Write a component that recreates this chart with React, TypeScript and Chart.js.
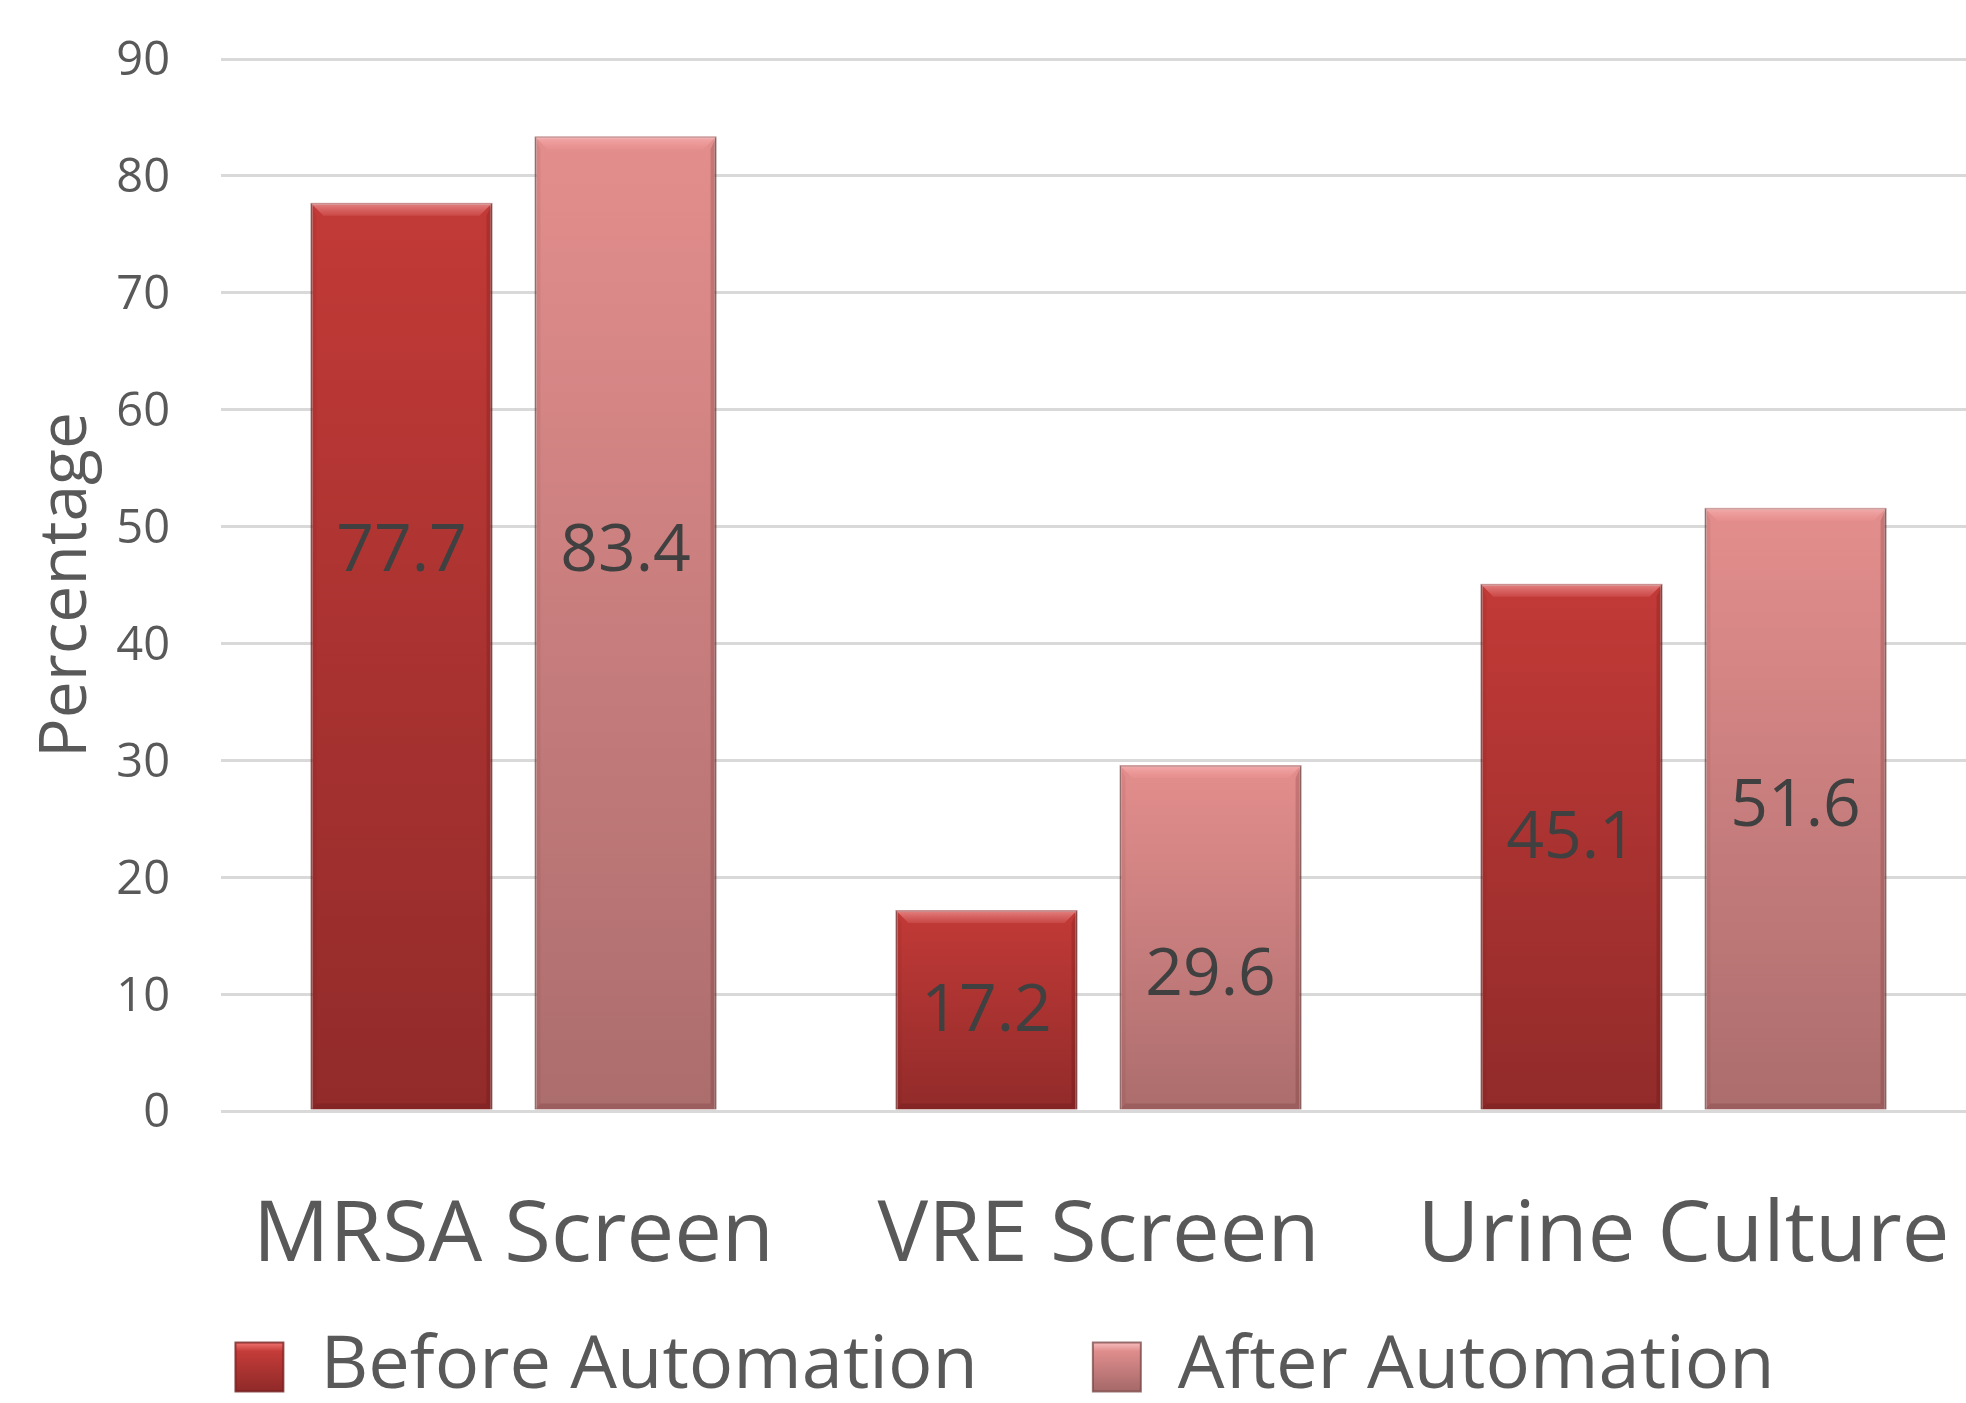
import React, { useEffect, useRef } from "react";
import { Chart, registerables } from "chart.js";

Chart.register(...registerables);

// ---- data ----
const categories = ["MRSA Screen", "VRE Screen", "Urine Culture"];
const seriesNames = ["Before Automation", "After Automation"];
const beforeAutomation = [77.7, 17.2, 45.1];
const afterAutomation = [83.4, 29.6, 51.6];
// height (in data units) at which each value label is centred in the original
const beforeLabelAt = [48.2, 8.9, 23.7];
const afterLabelAt = [48.2, 11.9, 26.4];
const yMin = 0;
const yMax = 90;
const yStep = 10;
const yTitle = "Percentage";

// ---- styles ----
const FONT = '"Open Sans", "Noto Sans", sans-serif';
const TEXT = "#595959";
const LABEL = "#404040";
const GRID = "#D9D9D9";
const beforeTop = "#C23A37";
const beforeBottom = "#912B2A";
const afterTop = "#E38E8D";
const afterBottom = "#AC6D6D";
const LEGEND_FONT = 74;
const LEGEND_BOX_W = 48;
const LEGEND_BOX_H = 49;
const LEGEND_PAD = 115;
const VALUE_FONT = 66;
// the plot runs slightly past the right edge of the picture, as in the original
const CANVAS_W = 1976;
const CANVAS_H = 1403;

function barGradient(top: string, bottom: string, mid: string) {
  return (ctx: any) => {
    const chart = ctx.chart;
    const ys = chart.scales && chart.scales.y;
    if (ctx.type !== "data" || !ys || !chart.chartArea) return mid;
    const v = ctx.raw as number;
    const y0 = ys.getPixelForValue(v);
    const y1 = ys.getPixelForValue(0);
    if (!isFinite(y0) || !isFinite(y1) || y0 === y1) return mid;
    const g = chart.ctx.createLinearGradient(0, y0, 0, y1);
    g.addColorStop(0, top);
    g.addColorStop(1, bottom);
    return g;
  };
}

const legendStops = [
  [
    [0, "#F07470"],
    [0.18, "#C43C39"],
    [1, "#8E2928"],
  ],
  [
    [0, "#F8BDBC"],
    [0.18, "#DE8D8C"],
    [1, "#A56868"],
  ],
];

const barDecor = {
  id: "barDecor",
  afterUpdate(chart: any) {
    const lg = chart.legend;
    if (!lg || !lg.legendItems) return;
    const y0 = lg.top + LEGEND_PAD + Math.max((LEGEND_FONT - LEGEND_BOX_H) / 2, 0);
    lg.legendItems.forEach((item: any, i: number) => {
      const g = chart.ctx.createLinearGradient(0, y0, 0, y0 + LEGEND_BOX_H);
      (legendStops[i] || legendStops[0]).forEach((s: any) => g.addColorStop(s[0], s[1]));
      item.fillStyle = g;
    });
  },
  afterDatasetsDraw(chart: any) {
    const { ctx } = chart;
    const ys = chart.scales.y;
    chart.data.datasets.forEach((ds: any, di: number) => {
      const meta = chart.getDatasetMeta(di);
      const anchors = di === 0 ? beforeLabelAt : afterLabelAt;
      meta.data.forEach((bar: any, i: number) => {
        const p = bar.getProps(["x", "y", "base", "width"], true);
        const left = p.x - p.width / 2;
        const right = p.x + p.width / 2;
        const top = Math.min(p.y, p.base);
        const bottom = Math.max(p.y, p.base);
        const b = 13;
        const s = 6;
        ctx.save();
        // top bevel (light)
        const tg = ctx.createLinearGradient(0, top, 0, top + b);
        tg.addColorStop(0, "rgba(255,200,200,0.55)");
        tg.addColorStop(1, "rgba(255,160,160,0.15)");
        ctx.fillStyle = tg;
        ctx.beginPath();
        ctx.moveTo(left, top);
        ctx.lineTo(right, top);
        ctx.lineTo(right - b, top + b);
        ctx.lineTo(left + b, top + b);
        ctx.closePath();
        ctx.fill();
        // right side (dark)
        ctx.fillStyle = "rgba(60,0,0,0.16)";
        ctx.beginPath();
        ctx.moveTo(right, top);
        ctx.lineTo(right, bottom);
        ctx.lineTo(right - s, bottom - s);
        ctx.lineTo(right - s, top + b);
        ctx.closePath();
        ctx.fill();
        // left side (slightly dark)
        ctx.fillStyle = "rgba(60,0,0,0.06)";
        ctx.beginPath();
        ctx.moveTo(left, top);
        ctx.lineTo(left, bottom);
        ctx.lineTo(left + s, bottom - s);
        ctx.lineTo(left + s, top + b);
        ctx.closePath();
        ctx.fill();
        // bottom (dark)
        ctx.fillStyle = "rgba(60,0,0,0.14)";
        ctx.beginPath();
        ctx.moveTo(left, bottom);
        ctx.lineTo(right, bottom);
        ctx.lineTo(right - s, bottom - s);
        ctx.lineTo(left + s, bottom - s);
        ctx.closePath();
        ctx.fill();
        // value label (digits centred on the anchor)
        ctx.font = `${VALUE_FONT}px ${FONT}`;
        ctx.fillStyle = LABEL;
        ctx.textAlign = "center";
        ctx.textBaseline = "alphabetic";
        ctx.fillText(
          Number(ds.data[i]).toFixed(1),
          p.x,
          ys.getPixelForValue(anchors[i]) + VALUE_FONT * 0.357
        );
        ctx.restore();
      });
    });
  },
};

export default function App() {
  const ref = useRef<HTMLCanvasElement | null>(null);

  useEffect(() => {
    if (!ref.current) return;
    const chart = new Chart(ref.current, {
      type: "bar",
      data: {
        labels: categories,
        datasets: [
          {
            label: seriesNames[0],
            data: beforeAutomation,
            backgroundColor: barGradient(beforeTop, beforeBottom, "#AE3331"),
            borderColor: "rgba(110,25,25,0.75)",
            borderWidth: 2,
            categoryPercentage: 0.766,
            barPercentage: 0.8125,
          },
          {
            label: seriesNames[1],
            data: afterAutomation,
            backgroundColor: barGradient(afterTop, afterBottom, "#C87D7D"),
            borderColor: "rgba(120,70,70,0.75)",
            borderWidth: 2,
            categoryPercentage: 0.766,
            barPercentage: 0.8125,
          },
        ],
      },
      options: {
        responsive: false,
        animation: false,
        layout: { padding: { top: 59, left: 34, right: 0, bottom: -11 } },
        scales: {
          x: {
            offset: true,
            grid: { display: false, drawTicks: false },
            border: { display: false },
            ticks: {
              color: TEXT,
              font: { family: FONT, size: 85, lineHeight: 1 },
              padding: -168,
              mirror: true,
              maxRotation: 0,
              autoSkip: false,
            },
            afterFit: (scale: any) => {
              scale.height = 104;
            },
          },
          y: {
            min: yMin,
            max: yMax,
            grid: {
              color: GRID,
              lineWidth: 3,
              drawTicks: true,
              tickLength: 51,
              tickColor: "rgba(0,0,0,0)",
            },
            border: { display: false },
            ticks: {
              stepSize: yStep,
              color: TEXT,
              font: { family: FONT, size: 47 },
              padding: 0,
              labelOffset: 3,
            },
            title: {
              display: true,
              text: yTitle,
              color: TEXT,
              font: { family: FONT, size: 66, lineHeight: 1 },
              padding: { top: 0, bottom: 0 },
            },
            afterFit: (scale: any) => {
              scale.width = 187;
            },
          },
        },
        plugins: {
          legend: {
            position: "bottom",
            labels: {
              color: TEXT,
              font: { family: FONT, size: LEGEND_FONT },
              boxWidth: LEGEND_BOX_W,
              boxHeight: LEGEND_BOX_H,
              padding: LEGEND_PAD,
            },
          },
          tooltip: { enabled: false },
        },
      },
      plugins: [barDecor],
    });
    return () => chart.destroy();
  }, []);

  return (
    <div
      style={{
        position: "fixed",
        left: 0,
        top: 0,
        width: 1966,
        height: 1403,
        overflow: "hidden",
        background: "#fff",
      }}
    >
      <canvas
        ref={ref}
        width={CANVAS_W}
        height={CANVAS_H}
        style={{ width: CANVAS_W, height: CANVAS_H, display: "block" }}
      />
    </div>
  );
}
